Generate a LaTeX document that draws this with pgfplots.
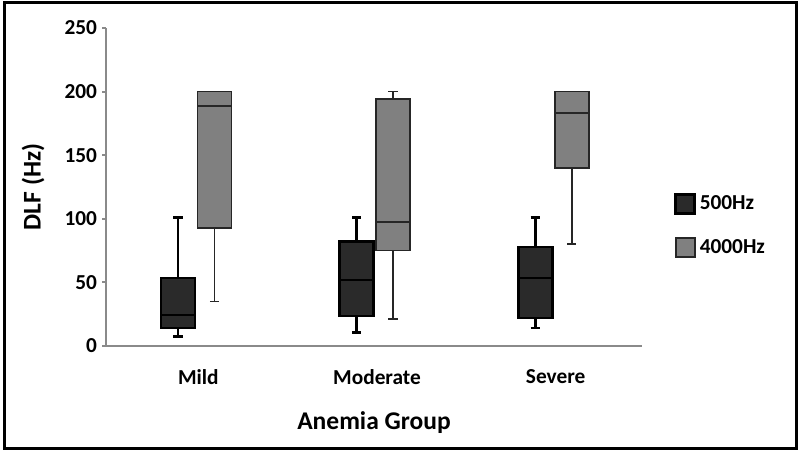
\documentclass[border=0pt]{standalone}
\usepackage{fontspec}
\setmainfont{Carlito}
\usepackage{pgfplots}
\pgfplotsset{compat=1.18}

\definecolor{lowbox}{HTML}{2A2A2A}
\definecolor{highbox}{HTML}{808080}
\definecolor{axisgray}{HTML}{8A8A8A}

\pgfplotsset{
  squareleg/.style={legend image code/.code={
      \draw[##1] (0bp,-4.75bp) rectangle (9.5bp,4.75bp);}},
  low/.style={draw=black, line width=1.2bp, no markers, solid},
  high/.style={draw=black!85, line width=0.9bp, no markers, solid},
}

% #1 line style, #2 fill, #3 position, #4 lower whisker, #5 lower quartile,
% #6 median, #7 upper quartile, #8 upper whisker
\newcommand{\boxitem}[8]{%
  \pgfmathsetmacro\boxl{#3-0.095}\pgfmathsetmacro\boxr{#3+0.095}%
  \pgfmathsetmacro\capl{#3-0.026}\pgfmathsetmacro\capr{#3+0.026}%
  \addplot[#1, forget plot] coordinates {(#3,#7) (#3,#8)};
  \addplot[#1, forget plot] coordinates {(\capl,#8) (\capr,#8)};
  \addplot[#1, forget plot] coordinates {(#3,#4) (#3,#5)};
  \addplot[#1, forget plot] coordinates {(\capl,#4) (\capr,#4)};
  \addplot[#1, fill=#2, forget plot] coordinates
    {(\boxl,#5) (\boxr,#5) (\boxr,#7) (\boxl,#7)} -- cycle;
  \addplot[#1, forget plot] coordinates {(\boxl,#6) (\boxr,#6)};
}

\begin{document}
\begin{tikzpicture}
  \useasboundingbox (0,0) rectangle (400bp,225.5bp);
  \draw[line width=1.5bp] (2bp,1.5bp) rectangle (398bp,224bp);

  \begin{axis}[
      at={(53bp,52.5bp)}, anchor=south west,
      scale only axis,
      width=268bp, height=159bp,
      xmin=-0.5, xmax=2.5,
      ymin=0, ymax=250,
      axis lines=left,
      axis line style={-, axisgray, line width=1.2bp},
      xtick={0,1,2},
      xticklabels={Mild, Moderate, Severe},
      ytick={0,50,...,250},
      x tick style={draw=none},
      y tick style={axisgray, line width=1bp},
      tick align=outside,
      major tick length=2bp,
      /pgf/number format/assume math mode=true,
      ticklabel style={font=\bfseries\fontsize{10.7}{12}\selectfont},
      xticklabel style={yshift=-6bp, xshift=1.5bp},
      yticklabel style={xshift=1bp},
      xlabel={Anemia Group},
      ylabel={DLF (Hz)},
      label style={font=\bfseries\fontsize{12.8}{14}\selectfont},
      xlabel style={at={(axis description cs:0.5,0)}, anchor=north, yshift=-29.5bp},
      ylabel style={at={(axis description cs:-0.136,0.5)}, anchor=center},
      legend style={at={(1,0.378)}, anchor=west, xshift=16bp,
        draw=none, fill=none, inner sep=0pt,
        font=\bfseries\fontsize{10.7}{12}\selectfont,
        row sep=9.5bp},
      legend cell align=left,
      clip=false,
    ]
    % 500Hz
    \boxitem{low}{lowbox}{-0.097}{7.5}{14}{24.5}{53.5}{101}
    \boxitem{low}{lowbox}{0.903}{10.5}{23.5}{52}{82}{101}
    \boxitem{low}{lowbox}{1.903}{14}{22}{53.5}{78}{101}
    % 4000Hz
    \boxitem{high}{highbox}{0.107}{35}{92.5}{188.5}{200}{200}
    \boxitem{high}{highbox}{1.107}{21}{75}{97.5}{194}{200}
    \boxitem{high}{highbox}{2.107}{80.5}{140}{183}{200}{200}

    \addlegendimage{squareleg, low, fill=lowbox}
    \addlegendentry{500Hz}
    \addlegendimage{squareleg, high, fill=highbox}
    \addlegendentry{4000Hz}
  \end{axis}
\end{tikzpicture}
\end{document}
